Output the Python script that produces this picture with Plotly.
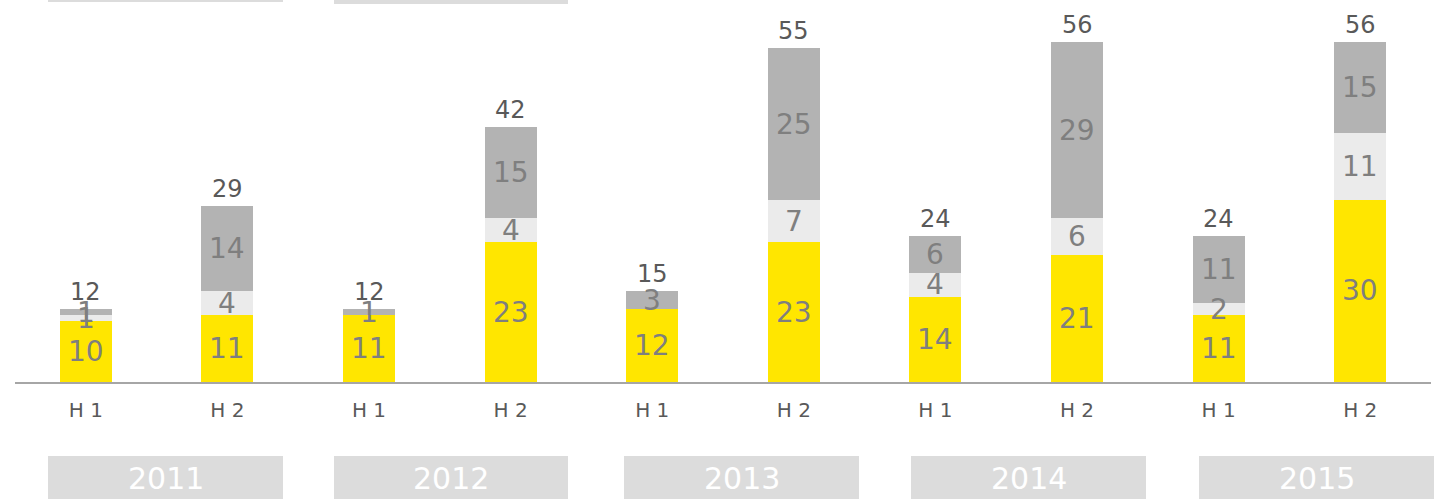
import plotly.graph_objects as go

# ---- data ----
periods = ["H 1", "H 2", "H 1", "H 2", "H 1", "H 2", "H 1", "H 2", "H 1", "H 2"]
years = ["2011", "2012", "2013", "2014", "2015"]
bottom_vals = [10, 11, 11, 23, 12, 23, 14, 21, 11, 30]
middle_vals = [1, 4, 0, 4, 0, 7, 4, 6, 2, 11]
top_vals = [1, 14, 1, 15, 3, 25, 6, 29, 11, 15]
totals = [12, 29, 12, 42, 15, 55, 24, 56, 24, 56]

# ---- style ----
FONT = "DejaVu Sans"
C_BOTTOM = "#FFE600"
C_MIDDLE = "#EBEBEB"
C_TOP = "#B3B3B3"
C_SEG_TXT = "#7F7F7F"
C_TOT_TXT = "#595959"
C_BOX = "#DCDCDC"

W, H = 1438, 499
ML, MR, MT, MB = 15, 7, 0, 117
PW = W - ML - MR
PH = H - MT - MB

def px_x(p):
    return (p - ML) / PW

def px_y(p):
    return (H - MB - p) / PH

xs = list(range(len(periods)))

fig = go.Figure()
for vals, col in [(bottom_vals, C_BOTTOM), (middle_vals, C_MIDDLE), (top_vals, C_TOP)]:
    fig.add_trace(go.Bar(x=xs, y=vals, marker=dict(color=col, line=dict(width=0)),
                         width=0.367, hoverinfo="skip", showlegend=False))

annotations = []
for i in xs:
    base = 0
    for v in (bottom_vals[i], middle_vals[i], top_vals[i]):
        if v > 0:
            annotations.append(dict(x=i, y=base + v / 2, text=str(v), showarrow=False,
                                    xref="x", yref="y", xanchor="center", yanchor="middle",
                                    font=dict(family=FONT, size=28, color=C_SEG_TXT)))
        base += v
    annotations.append(dict(x=i, y=totals[i], text=str(totals[i]), showarrow=False,
                            xref="x", yref="y", xanchor="center", yanchor="bottom", yshift=1,
                            font=dict(family=FONT, size=24, color=C_TOT_TXT)))

# year boxes (bottom) and the clipped boxes at the top
box_px = [(48, 283), (334, 568), (624, 859), (911, 1146), (1199, 1434)]
shapes = []
for (x0, x1), yr in zip(box_px, years):
    shapes.append(dict(type="rect", xref="paper", yref="paper",
                       x0=px_x(x0), x1=px_x(x1), y0=px_y(505), y1=px_y(456),
                       fillcolor=C_BOX, line=dict(width=0), layer="below"))
    annotations.append(dict(x=px_x((x0 + x1) / 2), y=px_y(478), xref="paper", yref="paper",
                            text=yr, showarrow=False, xanchor="center", yanchor="middle",
                            font=dict(family=FONT, size=30, color="white")))
shapes.append(dict(type="rect", xref="paper", yref="paper", x0=px_x(48), x1=px_x(283),
                   y0=px_y(2), y1=px_y(-5), fillcolor=C_BOX, line=dict(width=0)))
shapes.append(dict(type="rect", xref="paper", yref="paper", x0=px_x(334), x1=px_x(568),
                   y0=px_y(4), y1=px_y(-5), fillcolor=C_BOX, line=dict(width=0)))

fig.update_layout(
    barmode="stack",
    width=W, height=H,
    margin=dict(l=ML, r=MR, t=MT, b=MB),
    paper_bgcolor="white", plot_bgcolor="white",
    shapes=shapes, annotations=annotations,
    font=dict(family=FONT),
)
fig.update_xaxes(range=[-0.5, len(periods) - 0.5], tickmode="array", tickvals=xs,
                 ticktext=periods, showgrid=False, zeroline=False,
                 showline=True, linecolor="#A6A6A6", linewidth=2,
                 ticks="", ticklabelstandoff=9,
                 tickfont=dict(family=FONT, size=20, color="#595959"))
fig.update_yaxes(range=[0, PH / 6.07], visible=False, showgrid=False, zeroline=False)

fig.write_html("out.html", config={"displayModeBar": False},
               post_script="document.body.style.margin='0';document.body.style.overflow='hidden';")
